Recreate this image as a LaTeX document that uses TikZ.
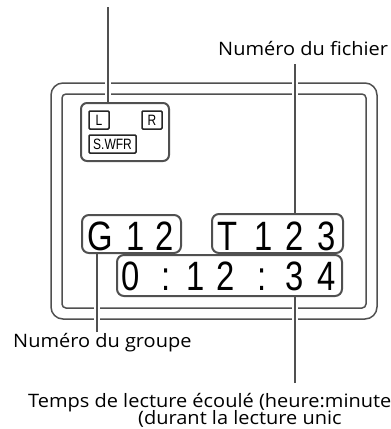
\documentclass[tikz,border=0pt]{standalone}
\usepackage{fontspec}
\setmainfont[FakeStretch=1.08]{Open Sans}
\newfontfamily\lcdfont[FakeStretch=0.8]{Liberation Sans}
\definecolor{linegray}{HTML}{505050}
\tikzset{
  frameline/.style={draw=linegray, line width=1.5pt},
  lcdbox/.style={draw=linegray, line width=2pt, rounded corners=7pt, inner sep=0pt, fill=white},
  smallbox/.style={draw=black!85, line width=1.5pt, rounded corners=1pt, inner sep=0pt},
  leader/.style={draw=linegray, line width=1.8pt, preaction={draw=white, line width=6pt}},
  digit/.style={anchor=base, inner sep=0pt, font=\lcdfont\fontsize{41}{41}\selectfont},
  smalltxt/.style={inner sep=0pt, font=\lcdfont\fontsize{15}{15}\selectfont},
  label/.style={anchor=base west, inner sep=0pt, font=\fontsize{18.5}{21}\selectfont}
}
\begin{document}
\begin{tikzpicture}[x=1pt,y=-1pt]
\useasboundingbox (0,0) rectangle (391,429);
% display frames
\draw[frameline, rounded corners=12pt] (51,83) rectangle (377,319);
\draw[frameline, rounded corners=4pt] (62,94) rectangle (366,308);

% leader coordinates
\coordinate (topend) at (108,7);
\coordinate (fileend) at (295,64);
\coordinate (grpend) at (97,332);
\coordinate (timeend) at (295,383);

% leaders (drawn below the boxes)
\draw[leader] (topend) -- (topend |- 0,103);
\draw[leader] (fileend) -- (fileend |- 0,214);
\draw[leader] (grpend) -- (grpend |- 0,253);
\draw[leader] (timeend) -- (timeend |- 0,296);

% speaker indicator group
\node[lcdbox, rounded corners=6pt, minimum width=88pt, minimum height=58pt] (lr) at (125,132) {};
\node[smallbox, minimum width=20pt, minimum height=18pt] (lbox) at (99,120) {};
\node[smalltxt] (ltxt) at (lbox) {L};
\node[smallbox, minimum width=20pt, minimum height=18pt] (rbox) at (152,120) {};
\node[smalltxt] (rtxt) at (rbox) {R};
\node[smallbox, minimum width=47pt, minimum height=18pt] (sbox) at (112.5,144) {};
\node[smalltxt] (stxt) at (sbox) {S.WFR};

% LCD boxes
\node[lcdbox, minimum width=99pt, minimum height=38pt] (g) at (131.5,234) {};
\node[lcdbox, minimum width=131pt, minimum height=39pt] (t) at (277.5,233.5) {};
\node[lcdbox, minimum width=225pt, minimum height=41pt] (h) at (229.5,275.5) {};

% digits
\node[digit] (g1) at (100,250) {G};
\node[digit] (g2) at (136,250) {1};
\node[digit] (g3) at (165,250) {2};
\node[digit] (t1) at (228,250) {T};
\node[digit] (t2) at (264,250) {1};
\node[digit] (t3) at (295,250) {2};
\node[digit] (t4) at (327,250) {3};
\node[digit] (h1) at (131,290.5) {0};
\node[digit] (h2) at (166,290.5) {:};
\node[digit] (h3) at (196,290.5) {1};
\node[digit] (h4) at (226,290.5) {2};
\node[digit] (h5) at (262,290.5) {:};
\node[digit] (h6) at (295,290.5) {3};
\node[digit] (h7) at (327,290.5) {4};

% labels
\node[label] (lfile) at (218,55.5) {Numéro du fichier};
\node[label] (lgrp) at (13,347.5) {Numéro du groupe};
\node[label] (ltime1) at (28,407) {Temps de lecture écoulé (heure:minute};
\node[label] (ltime2) at (138,424.5) {(durant la lecture unic};
\end{tikzpicture}
\end{document}
